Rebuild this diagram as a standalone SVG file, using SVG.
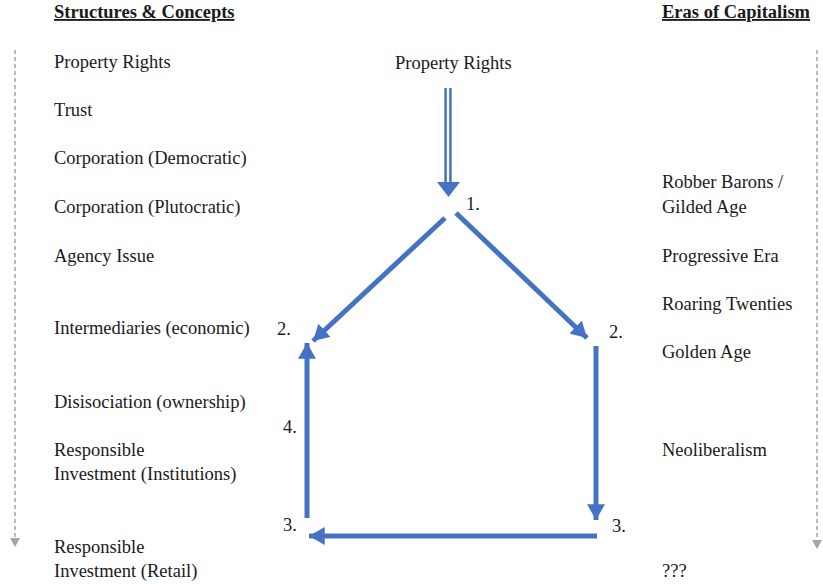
<svg xmlns="http://www.w3.org/2000/svg" width="823" height="584" viewBox="0 0 823 584">
<style>
text{font-family:"Liberation Serif","Times New Roman",serif;font-size:18.5px;fill:#1a1a1a}
.h{font-weight:bold;text-decoration:underline}
.b{stroke:#4472C4;stroke-width:5;fill:none}
.d{stroke:#A5A5A5;stroke-width:1.5;stroke-dasharray:4 3;fill:none}
</style>
<defs>
<marker id="ab" markerUnits="userSpaceOnUse" markerWidth="18" markerHeight="18" viewBox="0 0 16 16" refX="14" refY="8" orient="auto">
<path d="M0,0 L14,8 L0,16 Z" fill="#4472C4"/>
</marker>
<marker id="ag" markerUnits="userSpaceOnUse" markerWidth="12" markerHeight="10" viewBox="0 0 12 10" refX="0" refY="5" orient="auto">
<path d="M0,0 L9,5 L0,10 Z" fill="#A5A5A5"/>
</marker>
</defs>
<rect width="823" height="584" fill="#fff"/>
<g id="headings">
<text class="h" x="54" y="18">Structures &amp; Concepts</text>
<text class="h" x="662" y="18">Eras of Capitalism</text>
</g>
<g id="left-column">
<text x="54" y="68">Property Rights</text>
<text x="54" y="116">Trust</text>
<text x="54" y="164">Corporation (Democratic)</text>
<text x="54" y="213">Corporation (Plutocratic)</text>
<text x="54" y="262">Agency Issue</text>
<text x="54" y="334">Intermediaries (economic)</text>
<text x="54" y="408">Disisociation (ownership)</text>
<text x="54" y="456">Responsible</text>
<text x="54" y="480">Investment (Institutions)</text>
<text x="54" y="553">Responsible</text>
<text x="54" y="577">Investment (Retail)</text>
</g>
<g id="right-column">
<text x="662" y="188">Robber Barons /</text>
<text x="662" y="213">Gilded Age</text>
<text x="662" y="262">Progressive Era</text>
<text x="662" y="310">Roaring Twenties</text>
<text x="662" y="358">Golden Age</text>
<text x="662" y="456">Neoliberalism</text>
<text x="662" y="577">???</text>
</g>
<g id="node-top"><text x="395" y="69">Property Rights</text></g>
<g id="label-1"><text x="466" y="210">1.</text></g>
<g id="label-2l"><text x="277" y="335">2.</text></g>
<g id="label-2r"><text x="609" y="338">2.</text></g>
<g id="label-4"><text x="283" y="433">4.</text></g>
<g id="label-3l"><text x="283" y="531">3.</text></g>
<g id="label-3r"><text x="612" y="532">3.</text></g>
<g id="connectors">
<line class="d" x1="15" y1="50" x2="15" y2="538" marker-end="url(#ag)"/>
<line class="d" x1="817" y1="50" x2="817" y2="540" marker-end="url(#ag)"/>
<line x1="445.6" y1="88" x2="445.6" y2="183" stroke="#4472C4" stroke-width="2.5"/>
<line x1="450.4" y1="88" x2="450.4" y2="183" stroke="#4472C4" stroke-width="2.5"/>
<path d="M437,182 L460,182 L448.5,197 Z" fill="#4472C4"/>
<line class="b" x1="445" y1="218" x2="313" y2="341" marker-end="url(#ab)"/>
<line class="b" x1="456" y1="213" x2="587" y2="338" marker-end="url(#ab)"/>
<line class="b" x1="596" y1="346" x2="596" y2="520" marker-end="url(#ab)"/>
<line class="b" x1="597" y1="536" x2="309" y2="536" marker-end="url(#ab)"/>
<line class="b" x1="307" y1="518" x2="307" y2="343" marker-end="url(#ab)"/>
</g>
</svg>
